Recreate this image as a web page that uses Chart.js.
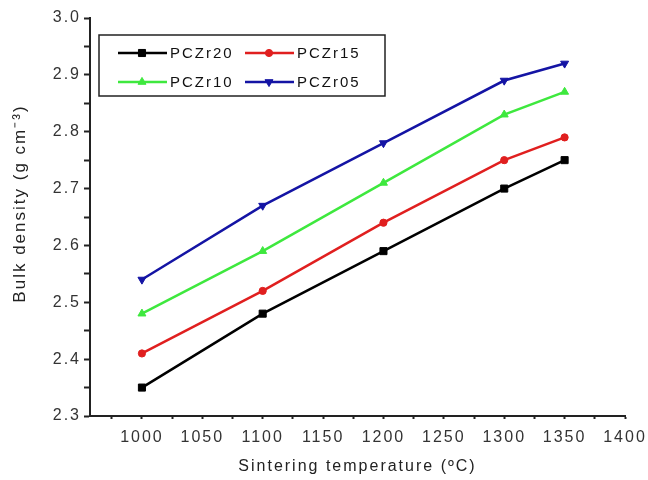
<!DOCTYPE html>
<html lang="en">
<head>
    <meta charset="UTF-8">
    <title>Bulk density vs sintering temperature</title>
    <style>
        body { margin: 0; padding: 0; background: #fff; }
        #wrap { width: 648px; height: 480px; }
    </style>
    <script src="https://cdn.jsdelivr.net/npm/chart.js"></script>
</head>
<body>
    <div id="wrap"><canvas id="densityChart" width="648" height="480"></canvas></div>
    <script>
        // values
        const temps = [1000, 1100, 1200, 1300, 1350];
        const pczr20 = [2.35, 2.48, 2.59, 2.70, 2.75];
        const pczr15 = [2.41, 2.52, 2.64, 2.75, 2.79];
        const pczr10 = [2.48, 2.59, 2.71, 2.83, 2.87];
        const pczr05 = [2.54, 2.67, 2.78, 2.89, 2.92];
        const seriesNames = ['PCZr20', 'PCZr15', 'PCZr10', 'PCZr05'];
        const xTicks = [1000, 1050, 1100, 1150, 1200, 1250, 1300, 1350, 1400];
        const yTicks = [2.3, 2.4, 2.5, 2.6, 2.7, 2.8, 2.9, 3.0];

        const colors = ['#000000', '#e01f1f', '#3ee83e', '#1414a4'];
        const styles = ['rect', 'circle', 'triangle', 'triangle'];
        const rotations = [0, 0, 0, 180];
        const radii = [5, 3.6, 4.6, 4.6];
        const FONT = '"Liberation Sans", Arial, sans-serif';

        const toPts = vals => vals.map((v, i) => ({ x: temps[i], y: v }));
        const allSeries = [pczr20, pczr15, pczr10, pczr05];

        const datasets = allSeries.map((vals, i) => ({
            label: seriesNames[i],
            data: toPts(vals),
            borderColor: colors[i],
            backgroundColor: colors[i],
            borderWidth: 2.5,
            pointStyle: styles[i],
            rotation: rotations[i],
            pointRadius: radii[i],
            pointBorderWidth: 1,
            tension: 0
        }));

        // the original uses widely spaced lettering everywhere
        const spacing = {
            id: 'spacing',
            beforeDraw(chart) { chart.ctx.letterSpacing = '2px'; }
        };

        // boxed legend in two rows, like the original
        const boxLegend = {
            id: 'boxLegend',
            afterDatasetsDraw(chart) {
                const ctx = chart.ctx;
                const x0 = 99, y0 = 35, w = 286, h = 61;
                ctx.save();
                ctx.strokeStyle = '#222';
                ctx.lineWidth = 1.5;
                ctx.strokeRect(x0, y0, w, h);
                ctx.font = '15px ' + FONT;
                ctx.textBaseline = 'middle';
                ctx.letterSpacing = '2px';
                chart.data.datasets.forEach((ds, i) => {
                    const col = i % 2, row = Math.floor(i / 2);
                    const lx = 118 + col * 127;
                    const ly = y0 + 18 + row * 29;
                    ctx.strokeStyle = ds.borderColor;
                    ctx.lineWidth = 2.5;
                    ctx.beginPath();
                    ctx.moveTo(lx, ly);
                    ctx.lineTo(lx + 49, ly);
                    ctx.stroke();
                    ctx.fillStyle = ds.borderColor;
                    ctx.lineWidth = 1;
                    Chart.helpers.drawPoint(ctx, {
                        pointStyle: ds.pointStyle, rotation: ds.rotation,
                        radius: ds.pointRadius, borderWidth: 1
                    }, lx + 24, ly);
                    ctx.fillStyle = '#111';
                    ctx.fillText(ds.label, lx + 52, ly + 1);
                });
                ctx.restore();
            }
        };

        const config = {
            type: 'line',
            data: { datasets: datasets },
            options: {
                responsive: false,
                animation: false,
                layout: { padding: { top: 18, right: 23, left: 0, bottom: 0 } },
                plugins: {
                    legend: { display: false },
                    tooltip: { enabled: false }
                },
                scales: {
                    x: {
                        type: 'linear',
                        min: 957,
                        max: 1400,
                        afterBuildTicks: s => {
                            s.ticks = [];
                            for (let v = 975; v <= 1400; v += 25) s.ticks.push({ value: v });
                        },
                        afterFit: s => { s.height = 64; s.paddingRight = 0; s.paddingLeft = 0; },
                        ticks: {
                            color: '#333',
                            font: { size: 16, family: FONT },
                            maxRotation: 0,
                            autoSkip: false,
                            callback: v => xTicks.includes(v) ? String(v) : '',
                            padding: 9
                        },
                        grid: {
                            drawOnChartArea: false,
                            tickLength: ctx => (ctx.tick && ctx.tick.value % 50 === 0) ? 6 : 3,
                            tickColor: '#222',
                            tickWidth: 2
                        },
                        border: { color: '#222', width: 2 },
                        title: {
                            display: true,
                            text: 'Sintering temperature (ºC)',
                            color: '#222',
                            font: { size: 16, family: FONT },
                            padding: { top: 0, bottom: 4 }
                        }
                    },
                    y: {
                        min: 2.3,
                        max: 3.0,
                        afterBuildTicks: s => {
                            s.ticks = [];
                            for (let k = 0; k <= 14; k++) s.ticks.push({ value: +(2.3 + k * 0.05).toFixed(2) });
                        },
                        afterFit: s => { s.width = 90; },
                        ticks: {
                            color: '#333',
                            font: { size: 16, family: FONT },
                            autoSkip: false,
                            callback: v => {
                                const r = Math.round(v * 100);
                                return yTicks.includes(r / 100) ? (r / 100).toFixed(1) : '';
                            },
                            padding: 3
                        },
                        grid: {
                            drawOnChartArea: false,
                            tickLength: 6,
                            tickColor: '#222',
                            tickWidth: 2
                        },
                        border: { color: '#222', width: 2 },
                        title: {
                            display: true,
                            // leading spaces nudge the label upward, as in the original
                            text: '    Bulk density (g cm⁻³)',
                            color: '#222',
                            font: { size: 17, family: FONT },
                            padding: { top: 10, bottom: 0 }
                        }
                    }
                }
            },
            plugins: [spacing, boxLegend]
        };

        const densityChart = new Chart(document.getElementById('densityChart'), config);
    </script>
</body>
</html>
